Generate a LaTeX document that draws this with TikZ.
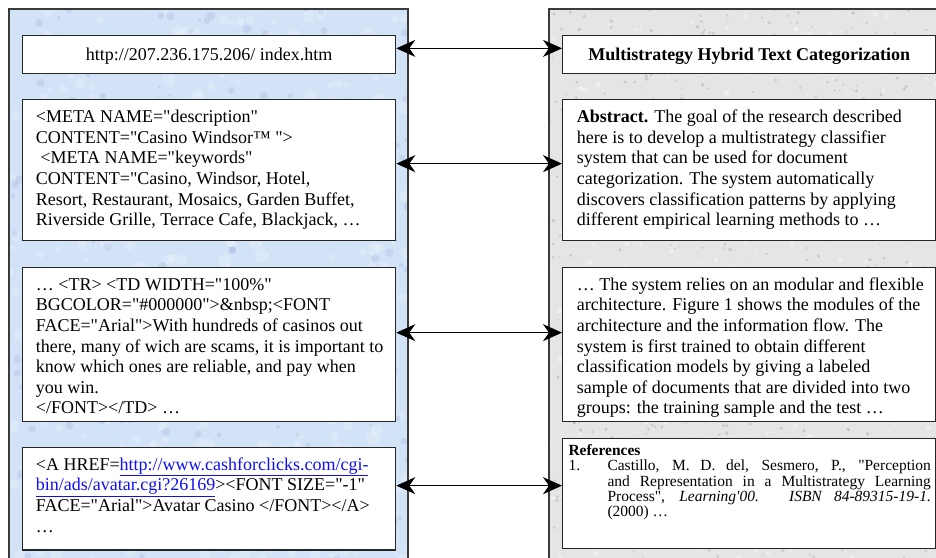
\documentclass[tikz,border=0pt]{standalone}
\usepackage{fontspec}
\newfontfamily\plainserif{Liberation Serif}
\usetikzlibrary{arrows.meta}
\definecolor{panelblue}{HTML}{D2E2F7}
\definecolor{panelgray}{HTML}{E5E5E5}
\definecolor{edgegray}{HTML}{3A3A3A}
\definecolor{linkblue}{HTML}{1010F0}
\newcommand{\weblink}[1]{\textcolor{linkblue}{\underline{#1}}}
\begin{document}
\plainserif
\begin{tikzpicture}[x=1pt,y=-1pt,
  box/.style={draw=black!85, line width=1.3pt, fill=white, inner sep=0pt, anchor=north west, minimum width=373pt},
  body/.style={inner sep=0pt, align=left, anchor=north west, font=\plainserif\fontsize{18}{20.6}\selectfont},
  one/.style={inner sep=0pt, anchor=base, font=\plainserif\fontsize{18}{20.6}\selectfont},
  biarrow/.style={line width=1pt, {Stealth[length=19pt,width=17pt,inset=6pt]}-{Stealth[length=19pt,width=17pt,inset=6pt]}},
]
\clip (0,0) rectangle (936,557);
% left panel
\begin{scope}
  \clip (9,9) rectangle (408,580);
  \fill[panelblue] (9,9) rectangle (408,580);
  \pgfmathsetseed{7}
  \foreach \i in {1,...,450} {
    \fill[white, opacity=0.22] ({208.5+199.5*rand},{290+285*rand}) circle[radius={1pt*(2+5*rnd)}];
  }
  \foreach \i in {1,...,250} {
    \fill[blue!40!black, opacity=0.06] ({208.5+199.5*rand},{290+285*rand}) circle[radius={1pt*(1.5+3*rnd)}];
  }
\end{scope}
\draw[edgegray, line width=1.5pt] (9,9) rectangle (408,600);
% right panel
\begin{scope}
  \clip (549,9) rectangle (960,580);
  \fill[panelgray] (549,9) rectangle (960,580);
  \pgfmathsetseed{11}
  \foreach \i in {1,...,900} {
    \fill[black, opacity=0.12] ({750+200*rand},{290+285*rand}) circle[radius={1pt*(0.6+1.4*rnd)}];
  }
  \foreach \i in {1,...,500} {
    \fill[white, opacity=0.35] ({750+200*rand},{290+285*rand}) circle[radius={1pt*(0.8+2*rnd)}];
  }
\end{scope}
\draw[edgegray, line width=1.5pt] (549,9) rectangle (980,600);

% boxes
\node[box, minimum height=38pt]    (lb1) at (22,35) {};
\node[box, minimum height=141pt]   (lb2) at (22,99) {};
\node[box, minimum height=154.3pt] (lb3) at (22,266.7) {};
\node[box, minimum height=102.6pt] (lb4) at (22,446.7) {};
\node[box, minimum height=38pt]    (rb1) at (562,35) {};
\node[box, minimum height=141pt]   (rb2) at (562,99) {};
\node[box, minimum height=154.3pt] (rb3) at (562,266.7) {};
\node[box, minimum height=110pt]   (rb4) at (562,438) {};

% texts
\node[one] (tl1) at ([yshift=-6pt]lb1.center) {http://207.236.175.206/ index.htm};
\node[one, font=\plainserif\fontsize{18}{20.6}\selectfont\bfseries] (tr1) at ([yshift=-6pt]rb1.center) {Multistrategy Hybrid Text Categorization};

\node[body] (tl2) at ([xshift=13.7pt,yshift=-9.1pt]lb2.north west)
{\strut<META NAME="description"\\
CONTENT="Casino Windsor™ ">\\
\hspace*{4.5pt}<META NAME="keywords"\\
CONTENT="Casino, Windsor, Hotel,\\
Resort, Restaurant, Mosaics, Garden Buffet,\\
Riverside Grille, Terrace Cafe, Blackjack, …};

\node[body] (tl3) at ([xshift=13.7pt,yshift=-8.9pt]lb3.north west)
{\strut… <TR> <TD WIDTH="100\%"\\
BGCOLOR="\#000000">\&nbsp;<FONT\\
FACE="Arial">With hundreds of casinos out\\
there, many of wich are scams, it is important to\\
know which ones are reliable, and pay when\\
you win.\\
</FONT></TD> …};

\node[body] (tl4) at ([xshift=13.7pt,yshift=-8.9pt]lb4.north west)
{\strut<A HREF=\weblink{http://www.cashforclicks.com/cgi-}\\
\weblink{bin/ads/avatar.cgi?26169}><FONT SIZE="-1"\\
FACE="Arial">Avatar Casino </FONT></A>\\
…};

\node[body] (tr2) at ([xshift=14.7pt,yshift=-9.1pt]rb2.north west)
{\strut\textbf{Abstract.} The goal of the research described\\
here is to develop a multistrategy classifier\\
system that can be used for document\\
categorization. The system automatically\\
discovers classification patterns by applying\\
different empirical learning methods to …};

\node[body] (tr3) at ([xshift=14.7pt,yshift=-8.9pt]rb3.north west)
{\strut… The system relies on an modular and flexible\\
architecture. Figure 1 shows the modules of the\\
architecture and the information flow. The\\
system is first trained to obtain different\\
classification models by giving a labeled\\
sample of documents that are divided into two\\
groups: the training sample and the test …};

\node[inner sep=0pt, anchor=north west, font=\plainserif\fontsize{15.5}{15.4}\selectfont] (tr4) at ([xshift=6.3pt,yshift=-6.2pt]rb4.north west)
{\parbox{362.4pt}{\tolerance=10000\hbadness=10000\strut\textbf{References}\par
\noindent\hangindent=39pt\hangafter=1\makebox[39pt][l]{1.}Castillo, M. D. del, Sesmero, P., "Perception\linebreak
and Representation in a Multistrategy Learning\linebreak
Process", \textit{Learning'00. ISBN 84-89315-19-1.}\linebreak
(2000) …}};

% connectors
\draw[biarrow] ([yshift=6.3pt]lb1.east) -- ([yshift=6.3pt]rb1.west);
\draw[biarrow] ([yshift=6.5pt]lb2.east) -- ([yshift=6.5pt]rb2.west);
\draw[biarrow] ([yshift=11.85pt]lb3.east) -- ([yshift=11.85pt]rb3.west);
\draw[biarrow] ([yshift=13pt]lb4.east) -- ([yshift=8pt]rb4.west);
\end{tikzpicture}
\end{document}
